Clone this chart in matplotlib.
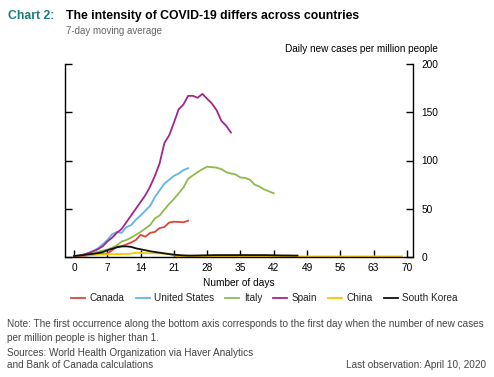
import matplotlib.pyplot as plt
import numpy as np

plt.rcParams['font.family'] = ['Liberation Sans', 'DejaVu Sans']

# daily new cases per million people, 7-day moving average
canada = [0.3, 0.8, 1.2, 1.8, 2.5, 3, 3.3, 3.5, 7, 10.7, 11, 13, 15, 17.6, 23, 21, 25, 26,
          30, 31, 35.7, 36.6, 36.3, 36, 37.6]
united_states = [0.5, 1.5, 2.5, 4, 6, 9, 13, 17.6, 23.5, 26, 25, 31, 33, 38.6, 43, 48,
                 53, 62, 69, 76, 80, 84, 86.5, 90, 92]
italy = [1, 1.5, 2, 3, 4, 5.5, 6.5, 7.6, 9.5, 12, 16, 17.6, 20, 23, 26, 29.5, 33, 40, 43,
         49, 55, 60, 66, 72, 81, 84.6, 88, 91, 93.6, 93, 92.6, 91, 88, 86.5, 85.5, 82.4,
         82, 80, 75, 73, 70, 68, 66]
spain = [0.5, 1.5, 2.5, 4, 6, 8, 11, 16, 20, 25, 29, 36, 43, 50, 57, 64, 73, 84, 97,
         118, 126, 139, 153, 158, 167, 167, 165, 169, 164, 159, 152, 141, 136, 129]
china = [1, 1.3, 1.6, 2, 2.3, 2.5, 2.7, 2.8, 2.9, 3, 3, 3.2, 3.5, 4.5, 4.2, 4, 4, 3.8,
         3.7, 3.6, 3.5, 1.5] + [0.6] * 48
south_korea = [1, 1.5, 2, 2.7, 3.3, 4, 5, 7, 8.5, 10, 11, 11, 10.5, 9, 8, 7, 6, 5.2, 4.5,
               3.7, 3, 2.4, 2, 1.7, 1.5, 1.5, 1.6, 1.7, 1.8, 1.9, 2, 2, 2, 2, 2, 2, 2,
               2, 2, 2, 2, 1.9, 1.8, 1.7, 1.6, 1.6, 1.5, 1.5]

series = [("Canada", canada, "#d9463b"),
          ("United States", united_states, "#63b4e2"),
          ("Italy", italy, "#8dbb48"),
          ("Spain", spain, "#a3258e"),
          ("China", china, "#f5c900"),
          ("South Korea", south_korea, "#111111")]

xticks = np.arange(0, 71, 7)
yticks = np.arange(0, 201, 50)

fig = plt.figure(figsize=(4.94, 3.77), dpi=100)
ax = fig.add_axes([65 / 494, 1 - 257 / 377, 348 / 494, 193 / 377])

for name, vals, col in series:
    ax.plot(np.arange(len(vals)), vals, color=col, linewidth=1.3, label=name)

ax.set_xlim(-1.9, 71.3)
ax.set_ylim(0, 200)
ax.set_xticks(xticks)
ax.set_yticks(yticks)
ax.spines['top'].set_visible(False)
ax.tick_params(axis='both', direction='in', length=5, width=1, labelsize=7.3,
               colors='black')
ax.tick_params(axis='x', pad=4)
ax.tick_params(axis='y', left=True, right=True, labelleft=False, labelright=True, pad=6)
for s in ['left', 'right', 'bottom']:
    ax.spines[s].set_linewidth(1)

ax.set_xlabel('Number of days', fontsize=7.3, labelpad=4)

fig.text(8 / 494, 1 - 19 / 377, 'Chart 2:', color='#1b7b82', fontsize=8.8,
         fontweight='bold', va='baseline')
fig.text(66 / 494, 1 - 19 / 377, 'The intensity of COVID-19 differs across countries',
         color='black', fontsize=8.8, fontweight='bold', va='baseline')
fig.text(66 / 494, 1 - 34 / 377, '7-day moving average', color='#666666', fontsize=7,
         va='baseline')
fig.text(438 / 494, 1 - 52 / 377, 'Daily new cases per million people', fontsize=7.2,
         ha='right', va='baseline')

leg = fig.legend(loc='center', bbox_to_anchor=(264.5 / 494, 1 - 298 / 377), ncol=6,
                 frameon=False, fontsize=7.2, handlelength=1.4, handletextpad=0.45,
                 columnspacing=1.1)
for t in leg.get_texts():
    t.set_color('#222222')

note = ('Note: The first occurrence along the bottom axis corresponds to the first day '
        'when the number of new cases\nper million people is higher than 1.')
fig.text(7 / 494, 1 - 341 / 377, note, color='#444444', fontsize=7.2, va='baseline',
         linespacing=1.55)
fig.text(7 / 494, 1 - 368 / 377,
         'Sources: World Health Organization via Haver Analytics\nand Bank of Canada calculations',
         color='#444444', fontsize=7.2, va='baseline', linespacing=1.3)
fig.text(486 / 494, 1 - 368 / 377, 'Last observation: April 10, 2020', color='#444444',
         fontsize=7.2, ha='right', va='baseline')

plt.savefig('out.png', dpi=100)
